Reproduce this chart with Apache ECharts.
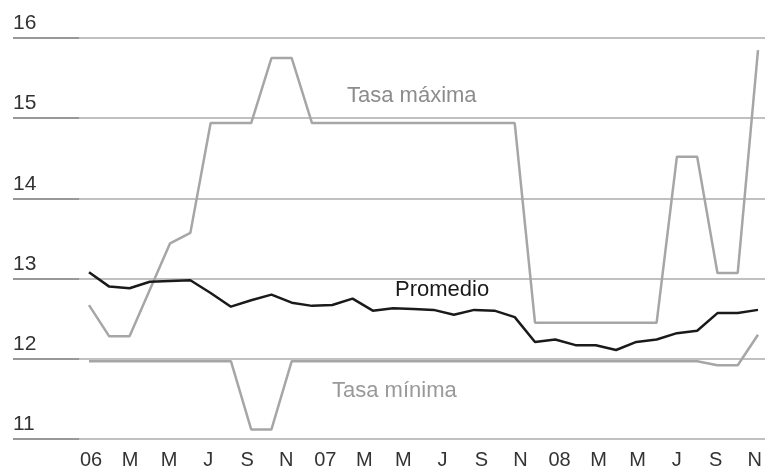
<!DOCTYPE html>
<html><head><meta charset="utf-8">
<script src="https://cdn.jsdelivr.net/npm/echarts@6/dist/echarts.min.js"></script>
<style>html,body{margin:0;padding:0;background:#fff}#c{width:765px;height:470px}</style>
</head><body><div id="c"></div>
<script>
// Month slots shown on the label axis (Jan 2006 .. Nov 2008)
const labelMonths = ['2006-01','2006-02','2006-03','2006-04','2006-05','2006-06','2006-07','2006-08','2006-09','2006-10','2006-11','2006-12',
  '2007-01','2007-02','2007-03','2007-04','2007-05','2007-06','2007-07','2007-08','2007-09','2007-10','2007-11','2007-12',
  '2008-01','2008-02','2008-03','2008-04','2008-05','2008-06','2008-07','2008-08','2008-09','2008-10','2008-11'];
const tickLabels = ['06','F','M','A','M','J','J','A','S','O','N','D',
  '07','F','M','A','M','J','J','A','S','O','N','D',
  '08','F','M','A','M','J','J','A','S','O','N'];
// Data months (Jan 2006 .. Oct 2008)
const dataMonths = ['2006-01','2006-02','2006-03','2006-04','2006-05','2006-06','2006-07','2006-08','2006-09','2006-10','2006-11','2006-12',
  '2007-01','2007-02','2007-03','2007-04','2007-05','2007-06','2007-07','2007-08','2007-09','2007-10','2007-11','2007-12',
  '2008-01','2008-02','2008-03','2008-04','2008-05','2008-06','2008-07','2008-08','2008-09','2008-10'];
const tasaMaxima = [12.67,12.28,12.28,12.86,13.44,13.57,14.94,14.94,14.94,15.75,15.75,14.94,
  14.94,14.94,14.94,14.94,14.94,14.94,14.94,14.94,14.94,14.94,12.45,12.45,
  12.45,12.45,12.45,12.45,12.45,14.52,14.52,13.07,13.07,15.85];
const promedio = [13.08,12.90,12.88,12.96,12.97,12.98,12.82,12.65,12.73,12.80,12.70,12.66,
  12.67,12.75,12.60,12.63,12.62,12.61,12.55,12.61,12.60,12.52,12.21,12.24,
  12.17,12.17,12.11,12.21,12.24,12.32,12.35,12.57,12.57,12.61];
const tasaMinima = [11.97,11.97,11.97,11.97,11.97,11.97,11.97,11.97,11.12,11.12,11.97,11.97,
  11.97,11.97,11.97,11.97,11.97,11.97,11.97,11.97,11.97,11.97,11.97,11.97,
  11.97,11.97,11.97,11.97,11.97,11.97,11.97,11.92,11.92,12.30];
const yMin = 11, yMax = 16, yStep = 1;
const seriesNames = ['Tasa máxima','Promedio','Tasa mínima'];

const FONT = '"Liberation Sans", Arial, sans-serif';
const chart = echarts.init(document.getElementById('c'), null, {renderer:'canvas'});
chart.setOption({
  animation:false,
  backgroundColor:'#fff',
  grid:[
    {left:13, right:0, top:38, bottom:31},
    {left:89, right:7, top:38, bottom:31},
    {left:91, right:7, top:38, bottom:31}
  ],
  xAxis:[
    {gridIndex:0, type:'value', min:0, max:1, show:false},
    {gridIndex:1, type:'category', data:dataMonths, boundaryGap:false, show:false},
    {gridIndex:2, type:'category', data:labelMonths, boundaryGap:false,
      axisLine:{show:false}, axisTick:{show:false}, splitLine:{show:false},
      axisLabel:{interval:1, margin:12, fontSize:20, color:'#333', fontFamily:FONT,
        formatter:(v,i)=>tickLabels[i]}}
  ],
  yAxis:[
    {gridIndex:0, type:'value', min:yMin, max:yMax, interval:yStep,
      axisLine:{show:false},
      axisTick:{show:true, inside:true, length:66, lineStyle:{color:'#8a8a8a', width:1.5}},
      splitLine:{show:true, lineStyle:{color:'#ababab', width:1.5}},
      axisLabel:{inside:true, margin:0, fontSize:21, color:'#333', fontFamily:FONT,
        verticalAlign:'bottom', lineHeight:21, padding:[0,0,4,0]}},
    {gridIndex:1, type:'value', min:yMin, max:yMax, show:false},
    {gridIndex:2, type:'value', min:yMin, max:yMax, show:false}
  ],
  series:[
    {name:seriesNames[0], type:'line', xAxisIndex:1, yAxisIndex:1, data:tasaMaxima,
      symbol:'none', lineStyle:{color:'#a6a6a6', width:2.5}, z:3},
    {name:seriesNames[2], type:'line', xAxisIndex:1, yAxisIndex:1, data:tasaMinima,
      symbol:'none', lineStyle:{color:'#a6a6a6', width:2.5}, z:3},
    {name:seriesNames[1], type:'line', xAxisIndex:1, yAxisIndex:1, data:promedio,
      symbol:'none', lineStyle:{color:'#1a1a1a', width:2.5}, z:4}
  ],
  graphic:[
    {type:'text', left:347, top:85, style:{text:seriesNames[0], font:'22px '+FONT, fill:'#8c8c8c'}},
    {type:'text', left:395, top:279, style:{text:seriesNames[1], font:'22px '+FONT, fill:'#1a1a1a'}},
    {type:'text', left:332, top:380, style:{text:seriesNames[2], font:'22px '+FONT, fill:'#999'}}
  ]
});
</script></body></html>
